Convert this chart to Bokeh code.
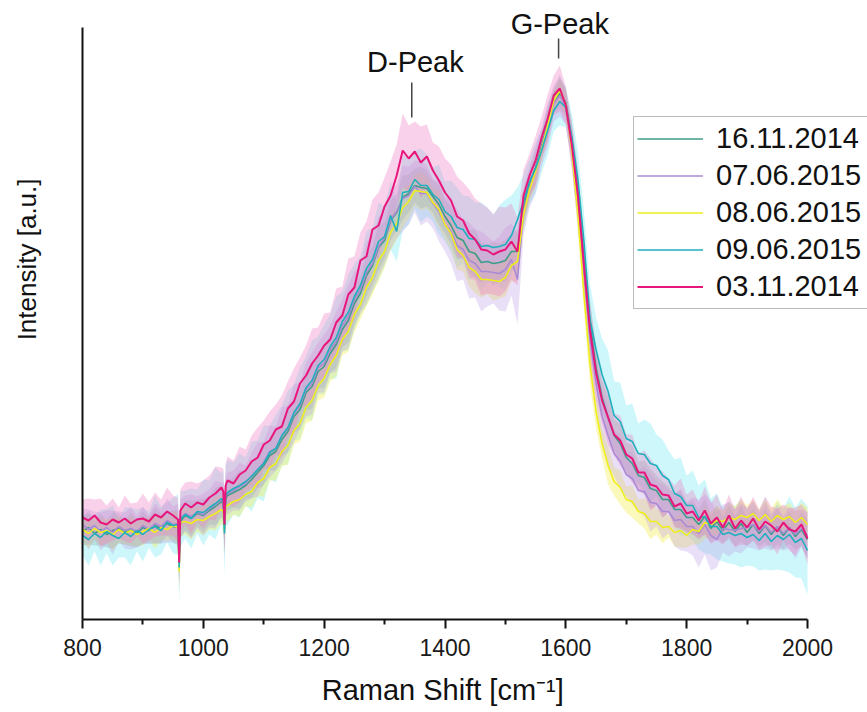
from bokeh.plotting import figure
from bokeh.models import Range1d, FixedTicker, Legend, LegendItem, Label, ColumnDataSource
from bokeh.embed import file_html
from bokeh.resources import INLINE

# Raman shift sampling (cm^-1); denser around the two narrow dips
raman_shift = (list(range(800, 951, 10)) + [958, 960, 962] + list(range(970, 1031, 10))
               + [1033, 1035, 1037] + list(range(1040, 2001, 10)))

x_ticks = [800, 1000, 1200, 1400, 1600, 1800, 2000]
x_minor = [900, 1100, 1300, 1500, 1700, 1900]

series_labels = ["16.11.2014", "07.06.2015", "08.06.2015", "09.06.2015", "03.11.2014"]

# mean intensities (a.u.)
i_16_11_2014 = [
    88, 92, 86, 90, 85, 89, 91, 87, 90, 86, 92, 89, 94, 91, 96, 93,
    92, 60, 98,
    104, 101, 106, 104, 109, 113, 118,
    115, 92, 121,
    124, 127, 130, 134, 140, 147,
    154, 164, 168, 180, 188, 203, 210, 227, 233, 248,
    253, 266, 275, 290, 299, 316, 326, 344, 354, 372,
    379, 399, 407, 422, 426, 434, 432, 431, 423, 415,
    403, 394, 382, 379, 368, 366, 357, 358, 356, 357,
    359, 368, 368, 412, 436, 452, 474, 496, 518, 526,
    517, 480, 428, 360, 297, 252, 222, 202, 184, 176,
    162, 156, 144, 142, 131, 129, 120, 120, 110, 110,
    102, 102, 95, 103, 91, 98, 89, 97, 88, 96,
    87, 95, 86, 94, 85, 93, 84, 92, 83, 90,
    80]
i_07_06_2015 = [
    95, 90, 94, 88, 92, 87, 93, 89, 91, 88, 94, 90, 96, 93, 99, 95,
    96, 65, 101,
    106, 103, 107, 105, 111, 115, 120,
    117, 90, 123,
    126, 129, 133, 136, 144, 150,
    157, 168, 171, 184, 191, 206, 214, 230, 236, 252,
    256, 270, 278, 294, 303, 320, 330, 347, 356, 373,
    382, 400, 408, 421, 424, 433, 426, 426, 416, 408,
    395, 388, 374, 370, 359, 356, 348, 348, 347, 346,
    350, 360, 340, 408, 432, 450, 472, 494, 516, 524,
    512, 470, 416, 345, 280, 236, 203, 184, 166, 158,
    145, 141, 129, 128, 117, 116, 108, 108, 99, 100,
    93, 93, 86, 95, 84, 80, 91, 90, 89, 91,
    92, 95, 88, 94, 87, 93, 86, 92, 85, 91,
    84]
i_08_06_2015 = [
    90, 86, 91, 87, 89, 85, 90, 86, 89, 85, 88, 91, 87, 92, 90, 94,
    92, 48, 97,
    98, 96, 100, 99, 103, 106, 110,
    108, 88, 113,
    114, 118, 120, 125, 128, 137,
    141, 152, 156, 168, 174, 189, 196, 212, 219, 234,
    241, 255, 264, 280, 288, 305, 315, 332, 342, 359,
    368, 387, 396, 412, 418, 429, 428, 427, 417, 410,
    395, 386, 370, 364, 352, 348, 340, 340, 339, 338,
    342, 354, 358, 405, 430, 448, 470, 494, 519, 529,
    515, 468, 405, 325, 255, 208, 176, 154, 138, 132,
    120, 118, 108, 106, 98, 98, 92, 93, 87, 89,
    84, 90, 88, 97, 95, 99, 98, 102, 100, 104,
    102, 106, 99, 105, 98, 104, 100, 103, 97, 102,
    95]
i_09_06_2015 = [
    84, 80, 86, 82, 88, 84, 81, 87, 83, 89, 85, 90, 93, 89, 97, 94,
    95, 52, 100,
    105, 101, 108, 107, 112, 116, 121,
    118, 86, 124,
    127, 131, 134, 138, 143, 150,
    156, 167, 171, 184, 192, 207, 216, 232, 239, 254,
    260, 273, 282, 298, 307, 323, 334, 351, 360, 378,
    383, 404, 388, 427, 428, 440, 434, 434, 425, 420,
    408, 403, 392, 390, 381, 380, 373, 374, 372, 373,
    375, 384, 400, 418, 438, 451, 469, 489, 509, 518,
    512, 482, 440, 378, 300, 270, 245, 228, 204, 198,
    181, 178, 166, 165, 156, 154, 144, 140, 126, 123,
    114, 114, 102, 103, 93, 93, 85, 87, 84, 86,
    82, 85, 79, 86, 78, 84, 80, 85, 77, 81,
    69]
i_03_11_2014 = [
    102, 99, 104, 97, 95, 100, 97, 101, 96, 100, 101, 98, 105, 102, 108, 104,
    100, 57, 109,
    116, 112, 117, 115, 122, 126, 132,
    128, 95, 134,
    139, 136, 145, 149, 158, 162,
    175, 179, 190, 193, 211, 218, 236, 244, 256, 264,
    274, 280, 297, 304, 325, 332, 359, 363, 390, 394,
    413, 424, 444, 469, 461, 468, 457, 463, 449, 439,
    427, 419, 403, 399, 386, 380, 370, 369, 365, 368,
    370, 378, 368, 424, 444, 459, 482, 501, 524, 531,
    514, 474, 424, 354, 289, 247, 219, 202, 185, 179,
    165, 161, 147, 147, 135, 133, 125, 124, 113, 116,
    106, 108, 99, 109, 96, 102, 92, 104, 91, 99,
    92, 101, 90, 98, 94, 88, 97, 90, 88, 95,
    81]

# standard deviations (half band widths)
sd_16_11_2014 = [
    14, 17, 12, 16, 13, 18, 15, 12, 17, 14, 16, 13, 18, 15, 12, 16,
    18, 24, 17,
    15, 18, 13, 17, 14, 19, 16,
    17, 26, 16,
    15, 15, 19, 14, 18, 16,
    20, 15, 19, 17, 21, 16, 20, 18, 22, 17,
    21, 19, 23, 18, 22, 20, 17, 21, 19, 23,
    18, 20, 18, 22, 19, 17, 21, 18, 16, 20,
    17, 19, 22, 18, 21, 24, 20, 17, 22, 19,
    21, 18, 22, 16, 14, 17, 13, 16, 12, 15,
    14, 17, 20, 18, 22, 19, 17, 21, 16, 19,
    15, 18, 14, 17, 20, 15, 18, 13, 16, 19,
    14, 17, 15, 18, 14, 16, 13, 17, 15, 18,
    14, 16, 13, 17, 15, 18, 14, 16, 13, 17,
    19]
sd_07_06_2015 = [
    16, 20, 14, 19, 17, 22, 15, 18, 21, 16, 19, 14, 20, 17, 22, 18,
    20, 28, 19,
    18, 22, 16, 21, 19, 24, 17,
    20, 30, 19,
    21, 20, 24, 18, 23, 27,
    21, 26, 22, 28, 24, 29, 23, 27, 31, 25,
    29, 24, 30, 26, 32, 28, 24, 31, 27, 30,
    26, 30, 27, 33, 29, 26, 32, 28, 25, 30,
    27, 32, 36, 30, 38, 34, 40, 35, 31, 37,
    42, 36, 45, 24, 20, 23, 19, 22, 18, 21,
    17, 20, 24, 22, 26, 23, 25, 29, 23, 27,
    22, 26, 21, 25, 29, 23, 27, 22, 26, 31,
    25, 29, 34, 30, 35, 28, 24, 27, 21, 25,
    20, 24, 19, 23, 18, 22, 17, 21, 24, 19,
    23]
sd_08_06_2015 = [
    12, 15, 11, 14, 12, 16, 13, 11, 15, 12, 14, 11, 16, 13, 11, 14,
    15, 22, 14,
    13, 16, 12, 15, 13, 17, 14,
    15, 20, 13,
    16, 13, 17, 12, 16, 14,
    18, 13, 17, 15, 19, 14, 18, 16, 20, 15,
    19, 17, 21, 16, 20, 18, 15, 19, 17, 21,
    16, 18, 16, 20, 17, 15, 19, 16, 14, 18,
    15, 17, 20, 16, 19, 22, 18, 15, 20, 17,
    19, 16, 20, 14, 12, 15, 11, 14, 10, 13,
    12, 15, 18, 16, 20, 17, 15, 19, 14, 17,
    13, 16, 12, 15, 18, 13, 16, 11, 14, 17,
    12, 15, 13, 16, 12, 14, 11, 15, 13, 16,
    12, 14, 11, 15, 13, 16, 12, 14, 11, 15,
    17]
sd_09_06_2015 = [
    20, 26, 18, 28, 22, 30, 19, 25, 29, 21, 27, 18, 31, 24, 20, 28,
    30, 38, 28,
    24, 30, 22, 33, 27, 36, 25,
    32, 42, 30,
    33, 26, 32, 24, 35, 29,
    38, 27, 34, 30, 37, 28, 36, 31, 40, 29,
    35, 32, 41, 30, 38, 33, 29, 37, 32, 39,
    30, 34, 30, 38, 33, 29, 37, 31, 27, 35,
    30, 36, 40, 34, 42, 37, 44, 38, 33, 41,
    45, 40, 32, 27, 23, 26, 22, 25, 21, 24,
    20, 23, 28, 30, 35, 32, 36, 41, 34, 39,
    33, 38, 30, 35, 40, 31, 36, 29, 34, 39,
    30, 35, 32, 37, 28, 33, 27, 31, 29, 34,
    28, 32, 30, 36, 29, 34, 31, 38, 35, 40,
    44]
sd_03_11_2014 = [
    18, 22, 16, 24, 19, 21, 15, 23, 20, 17, 25, 19, 22, 18, 24, 20,
    22, 26, 21,
    21, 26, 19, 24, 22, 27, 20,
    23, 28, 22,
    24, 23, 28, 21, 26, 30,
    24, 29, 25, 31, 27, 33, 26, 30, 35, 28,
    32, 27, 34, 29, 36, 31, 28, 35, 30, 33,
    29, 34, 31, 37, 33, 30, 36, 32, 28, 34,
    34, 36, 40, 38, 44, 41, 46, 43, 40, 45,
    42, 38, 34, 26, 22, 25, 21, 24, 20, 23,
    19, 22, 26, 24, 28, 25, 23, 27, 21, 25,
    20, 24, 18, 22, 26, 19, 23, 17, 21, 25,
    19, 22, 18, 24, 20, 23, 17, 21, 19, 24,
    18, 22, 20, 25, 19, 23, 18, 21, 24, 20,
    26]

means = [i_16_11_2014, i_07_06_2015, i_08_06_2015, i_09_06_2015, i_03_11_2014]
sds = [sd_16_11_2014, sd_07_06_2015, sd_08_06_2015, sd_09_06_2015, sd_03_11_2014]
line_colors = ["#3f9c88", "#a88bd6", "#eeee1c", "#1fb0bd", "#e8167a"]
band_colors = ["#7fae9f", "#bfa3e6", "#f4ee55", "#6fe9f2", "#f27cc4"]
band_alpha = [0.3, 0.35, 0.4, 0.35, 0.35]
line_widths = [1.6, 1.6, 1.6, 1.6, 2.0]
band_order = [3, 2, 0, 1, 4]

FONT = "Liberation Sans"
NBSP = "\u00a0"

# frame extends to the right and top edges so that the legend and the peak
# labels are not clipped; axes are bounded to the data extent.
p = figure(width=867, height=712, output_backend="svg", toolbar_location=None,
           x_range=Range1d(800, 2099.31), y_range=Range1d(0, 619),
           min_border_left=82, min_border_right=0, min_border_top=0, min_border_bottom=93)
p.xgrid.visible = False
p.ygrid.visible = False
p.outline_line_color = None

for k in band_order:
    lo = [m - s for m, s in zip(means[k], sds[k])]
    hi = [m + s for m, s in zip(means[k], sds[k])]
    src = ColumnDataSource(dict(x=raman_shift, lo=lo, hi=hi))
    p.varea(x="x", y1="lo", y2="hi", source=src, fill_color=band_colors[k],
            fill_alpha=band_alpha[k])

renderers = []
for k in range(5):
    r = p.line(raman_shift, means[k], line_color=line_colors[k], line_width=line_widths[k])
    renderers.append(r)

# peak markers
peak_x = [1345, 1588]
peak_y0 = [502, 561]
peak_y1 = [537, 581]
p.segment(x0=peak_x, y0=peak_y0, x1=peak_x, y1=peak_y1, line_color="#444444", line_width=1.5)

peak_names = ["D-Peak", "G-Peak"]
peak_label_x = [1351, 1590]
peak_label_y = [558, 596]
for name, lx, ly in zip(peak_names, peak_label_x, peak_label_y):
    p.add_layout(Label(x=lx, y=ly, text=name, text_align="center", text_baseline="middle",
                       text_font=FONT, text_font_size="29px", text_color="#111111"))

# axes
xa = p.xaxis[0]
xa.bounds = (800, 2000)
xa.ticker = FixedTicker(ticks=x_ticks, minor_ticks=x_minor)
xa.axis_line_width = 2
xa.axis_line_color = "#111111"
xa.major_tick_line_width = 2
xa.major_tick_line_color = "#111111"
xa.major_tick_out = 9
xa.major_tick_in = 0
xa.minor_tick_line_width = 2
xa.minor_tick_line_color = "#111111"
xa.minor_tick_out = 5
xa.minor_tick_in = 0
xa.major_label_text_font = FONT
xa.major_label_text_font_size = "23px"
xa.major_label_text_color = "#1a1a1a"
xa.major_label_standoff = 10
# non-breaking spaces shift the centred label to where the reference has it
xa.axis_label = "Raman Shift [cm\u207b\u00b9]" + NBSP * 8
xa.axis_label_standoff = 15
xa.axis_label_text_font = FONT
xa.axis_label_text_font_size = "29px"
xa.axis_label_text_font_style = "normal"
xa.axis_label_text_color = "#111111"

ya = p.yaxis[0]
ya.bounds = (0, 592)
ya.ticker = FixedTicker(ticks=[])
ya.axis_line_width = 2
ya.axis_line_color = "#111111"
ya.major_tick_line_color = None
ya.minor_tick_line_color = None
ya.major_tick_out = 0
ya.minor_tick_out = 0
ya.major_label_standoff = 0
ya.axis_label = NBSP * 14 + "Intensity [a.u.]"
ya.axis_label_standoff = 41
ya.axis_label_text_font = FONT
ya.axis_label_text_font_size = "26px"
ya.axis_label_text_font_style = "normal"
ya.axis_label_text_color = "#111111"

legend = Legend(items=[LegendItem(label=series_labels[k], renderers=[renderers[k]]) for k in range(5)],
                location=(551, 310))
legend.label_text_font = FONT
legend.label_text_font_size = "29px"
legend.label_text_color = "#111111"
legend.glyph_width = 66
legend.glyph_height = 37
legend.label_height = 37
legend.label_width = 170
legend.spacing = 0
legend.padding = 3
legend.margin = 0
legend.label_standoff = 13
legend.border_line_color = "#777777"
legend.border_line_width = 1.5
legend.background_fill_alpha = 1.0
p.add_layout(legend)

open("out.html", "w").write(file_html(p, INLINE))
